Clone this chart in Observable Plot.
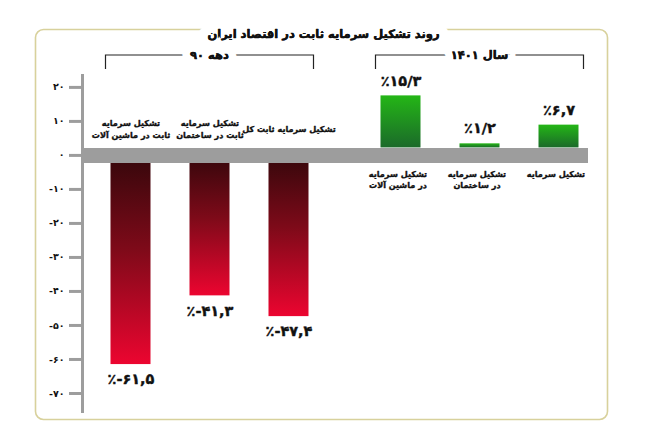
<!DOCTYPE html>
<html><head><meta charset="utf-8">
<script src="https://cdn.jsdelivr.net/npm/d3@7"></script>
<script src="https://cdn.jsdelivr.net/npm/@observablehq/plot@0.6"></script>
<style>
html,body{margin:0;padding:0;background:#fff;}
#chart svg{display:block;}
</style></head><body><div id="chart"></div>
<script>
const title = "روند تشکیل سرمایه ثابت در اقتصاد ایران";
const groupNames = ["دهه ۹۰", "سال ۱۴۰۱"];
const categories = [
  "تشکیل سرمایه\nثابت در ماشین آلات",
  "تشکیل سرمایه\nثابت در ساختمان",
  "تشکیل سرمایه ثابت کل",
  "تشکیل سرمایه\nدر ماشین آلات",
  "تشکیل سرمایه\nدر ساختمان",
  "تشکیل سرمایه"
];
const groups = ["دهه ۹۰", "دهه ۹۰", "دهه ۹۰", "سال ۱۴۰۱", "سال ۱۴۰۱", "سال ۱۴۰۱"];
const values = [-61.5, -41.3, -47.4, 15.3, 1.2, 6.7];
const valueLabels = ["٪-۶۱,۵", "٪-۴۱,۳", "٪-۴۷,۴", "٪۱۵/۳", "٪۱/۲", "٪۶,۷"];
const yTicks = [20, 10, 0, -10, -20, -30, -40, -50, -60, -70];
const yTickLabels = ["۲۰", "۱۰", "۰", "-۱۰", "-۲۰", "-۳۰", "-۴۰", "-۵۰", "-۶۰", "-۷۰"];

const data = categories.map((c, i) => ({category: c, group: groups[i], value: values[i], label: valueLabels[i]}));
const neg = data.filter(d => d.group === groupNames[0]);
const pos = data.filter(d => d.group === groupNames[1]);

const FONT = "'DejaVu Sans', 'Noto Sans', sans-serif";
const shift = 16.5, lift = 7.5;
const GRAY = "#9d9d9d";

const defs = () => {
  const g = d3.create("svg:defs");
  const r = g.append("linearGradient").attr("id", "gradRed").attr("x1", 0).attr("y1", 0).attr("x2", 0).attr("y2", 1);
  r.append("stop").attr("offset", "0%").attr("stop-color", "#35070b");
  r.append("stop").attr("offset", "45%").attr("stop-color", "#7e0a19");
  r.append("stop").attr("offset", "100%").attr("stop-color", "#ec0530");
  const gr = g.append("linearGradient").attr("id", "gradGreen").attr("x1", 0).attr("y1", 0).attr("x2", 0).attr("y2", 1);
  gr.append("stop").attr("offset", "0%").attr("stop-color", "#24b616");
  gr.append("stop").attr("offset", "100%").attr("stop-color", "#1b6a2a");
  return g.node();
};

const catStyle = {fontSize: 8.1, fontWeight: "bold", fill: "#111", stroke: "#111", strokeWidth: 0.35, lineHeight: 1.45};
const valStyle = {fontSize: 14.5, fontWeight: "bold", fill: "#111", stroke: "#111", strokeWidth: 0.4};

const chart = Plot.plot({
  width: 652, height: 448,
  marginLeft: 82, marginRight: 64, marginTop: 75, marginBottom: 37,
  style: {fontFamily: FONT, background: "#fff", color: "#111"},
  x: {domain: categories, range: [87.25, 600.75], padding: 0.5, axis: null},
  y: {domain: [-75.3, 23.5], axis: null},
  marks: [
    defs,
    Plot.frame({stroke: "#d8d19c", strokeWidth: 1.6, rx: 8, insetLeft: -47, insetRight: -19, insetTop: -46, insetBottom: -8}),
    Plot.text([title], {frameAnchor: "top", dx: -12, dy: -46, fontSize: 11.5, fontWeight: "bold", fill: "#111", stroke: "white", strokeWidth: 20, paintOrder: "stroke"}),
    Plot.text([title], {frameAnchor: "top", dx: -12, dy: -46, fontSize: 11.5, fontWeight: "bold", fill: "#111", stroke: "#111", strokeWidth: 0.4}),
    Plot.barY(neg, {x: "category", y: "value", fill: "url(#gradRed)", dx: -shift}),
    Plot.barY(pos, {x: "category", y: "value", fill: "url(#gradGreen)", dx: shift, dy: -lift}),
    Plot.ruleY([0], {stroke: GRAY, strokeWidth: 15}),
    Plot.frame({anchor: "left", stroke: GRAY, strokeWidth: 3}),
    Plot.axisY({ticks: yTicks, tickFormat: d => yTickLabels[yTicks.indexOf(d)], label: null, tickSize: 13, tickPadding: 5, stroke: GRAY, strokeWidth: 3, fontSize: 9.5, fontWeight: "bold", fill: "#111"}),
    Plot.text(neg, {x: "category", y: "value", text: "label", dx: -shift, dy: 15, ...valStyle}),
    Plot.text(pos, {x: "category", y: "value", text: "label", dx: shift, dy: -lift - 15, ...valStyle}),
    Plot.text(neg, {x: "category", y: d => 0, text: "category", dx: -shift, dy: -27, lineAnchor: "middle", ...catStyle}),
    Plot.text(pos, {x: "category", y: d => 0, text: "category", dx: shift - 3, dy: 13, lineAnchor: "top", ...catStyle})
  ]
});

document.getElementById("chart").appendChild(chart);

// group brackets, positioned from the plot's x scale
const xs = chart.scale("x");
const svg = d3.select(chart);
[[neg, -shift, groupNames[0]], [pos, shift, groupNames[1]]].forEach(([rows, s, name]) => {
  const left = xs.apply(rows[0].category) + s - 5;
  const right = xs.apply(rows[rows.length - 1].category) + xs.bandwidth + s + 5;
  const g = svg.append("g");
  g.append("path").attr("d", `M${left},69V55H${right}V69`).attr("fill", "none").attr("stroke", "#222").attr("stroke-width", 1.2);
  g.append("text").attr("x", (left + right) / 2).attr("y", 55).attr("dy", "0.35em")
    .attr("text-anchor", "middle").attr("font-family", FONT).attr("font-size", 11.5).attr("font-weight", "bold")
    .attr("fill", "#111").attr("stroke", "white").attr("stroke-width", 16).attr("paint-order", "stroke")
    .text(name);
  g.append("text").attr("x", (left + right) / 2).attr("y", 55).attr("dy", "0.35em")
    .attr("text-anchor", "middle").attr("font-family", FONT).attr("font-size", 11.5).attr("font-weight", "bold")
    .attr("fill", "#111").attr("stroke", "#111").attr("stroke-width", 0.4)
    .text(name);
});
</script></body></html>
